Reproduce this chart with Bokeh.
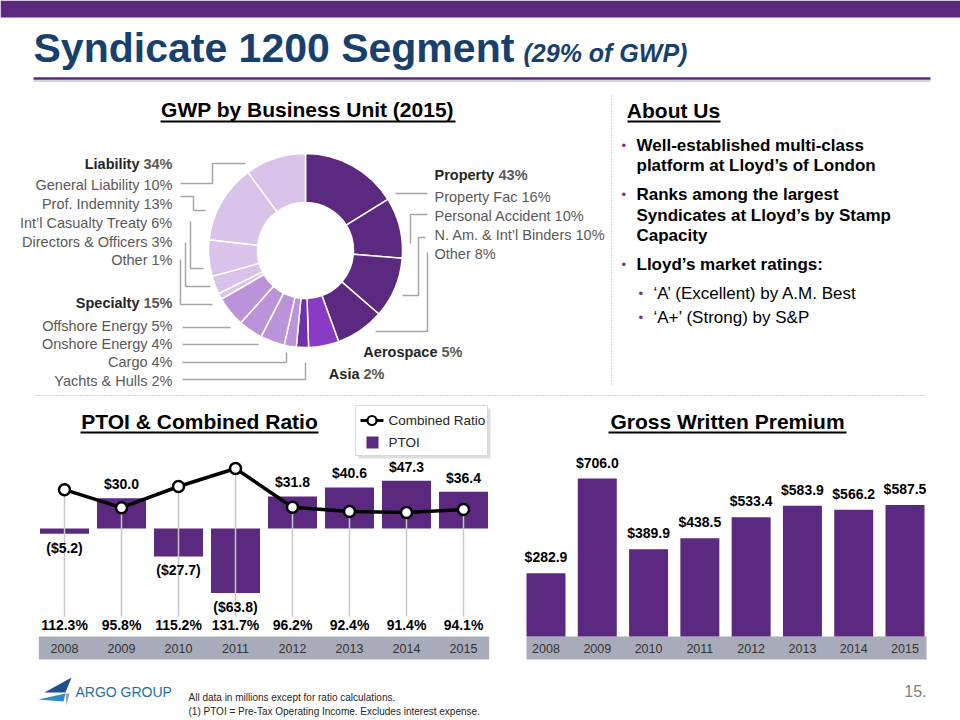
import math
from bokeh.plotting import figure
from bokeh.models import Range1d
from bokeh.embed import file_html
from bokeh.resources import INLINE
from bokeh.core.properties import value

# ---------------- data ----------------
years = ["2008", "2009", "2010", "2011", "2012", "2013", "2014", "2015"]
ptoi = [-5.2, 30.0, -27.7, -63.8, 31.8, 40.6, 47.3, 36.4]
combined_ratio = [112.3, 95.8, 115.2, 131.7, 96.2, 92.4, 91.4, 94.1]
gwp = [282.9, 706.0, 389.9, 438.5, 533.4, 583.9, 566.2, 587.5]

unit_names = ["Property Fac", "Personal Accident", "N. Am. & Int\u2019l Binders", "Other",
              "Aerospace", "Asia",
              "Yachts & Hulls", "Cargo", "Onshore Energy", "Offshore Energy",
              "Other", "Directors & Officers", "Int\u2019l Casualty Treaty", "Prof. Indemnity",
              "General Liability"]
unit_pct = [16, 10, 10, 8, 5, 2, 2, 4, 4, 5, 1, 3, 6, 13, 10]
unit_group = ["Property"] * 4 + ["Aerospace", "Asia"] + ["Specialty"] * 4 + ["Liability"] * 5
group_names = ["Property", "Aerospace", "Asia", "Specialty", "Liability"]
group_pct = [43, 5, 2, 15, 34]

about_lines = [
    ("Well-established multi-class", True, True),
    ("platform at Lloyd\u2019s of London", True, False),
    ("Ranks among the largest", True, True),
    ("Syndicates at Lloyd\u2019s by Stamp", True, False),
    ("Capacity", True, False),
    ("Lloyd\u2019s market ratings:", True, True),
    ("\u2018A\u2019 (Excellent) by A.M. Best", False, True),
    ("\u2018A+\u2019 (Strong) by S&P", False, True),
]

# ---------------- styles ----------------
PURPLE = "#5B2A80"
NAVY = "#17406D"
GREY_TXT = "#595959"
LEADER = "#A6A6A6"
BAND = "#A8ACBA"
FONT = "Liberation Sans"
GROUP_COLORS = {"Property": "#5B2A80", "Aerospace": "#8A3BC3", "Asia": "#7030A8",
                "Specialty": "#BA93D9", "Liability": "#D9C3EA"}

L, R, T, B = 0, 960, 0, 720

p = figure(width=R - L, height=B - T, x_range=Range1d(L, R), y_range=Range1d(B, T),
           output_backend="svg", toolbar_location=None, tools="",
           x_axis_location=None, y_axis_location=None, min_border=0)
p.xgrid.visible = False
p.ygrid.visible = False
p.outline_line_color = None
p.title.visible = False


class XMap:
    def __init__(self, v0, p0, v1, p1):
        self.k = (p1 - p0) / (v1 - v0)
        self.v0, self.p0 = v0, p0

    def range(self):
        return Range1d(self.v0 - (self.p0 - L) / self.k, self.v0 + (R - self.p0) / self.k)


class YMap:
    def __init__(self, v0, p0, v1, p1):
        self.k = (p0 - p1) / (v1 - v0)
        self.v0, self.p0 = v0, p0

    def range(self):
        return Range1d(self.v0 - (B - self.p0) / self.k, self.v0 + (self.p0 - T) / self.k)

    def val(self, pix):
        return self.v0 + (self.p0 - pix) / self.k


px = XMap(0, 64, 7, 463)
gx = XMap(0, 545.5, 7, 904.5)
dxm = XMap(0, 305, 1, 306)
py = YMap(0, 528, 100, 427)
cy = YMap(131.7, 468, 91.4, 512)
gy = YMap(0, 636, 706, 478)
dym = YMap(0, 250, 1, 249)
p.extra_x_ranges = {"px": px.range(), "gx": gx.range(), "dx": dxm.range()}
p.extra_y_ranges = {"py": py.range(), "cy": cy.range(), "gy": gy.range(), "dy": dym.range()}


def txt(x, y, s, size, color="#000000", style="normal", align="left", baseline="middle", font=FONT):
    p.text(x=[x], y=[y], text=[s], text_font=value(font), text_font_size=f"{size}px",
           text_color=color, text_font_style=style, text_align=align, text_baseline=baseline)


# ---------------- header ----------------
p.quad(left=0, right=960, top=0, bottom=17, fill_color=PURPLE, line_color=None)
txt(33, 47, "Syndicate 1200 Segment", 41, NAVY, "bold")
txt(523, 52, "(29% of GWP)", 25, NAVY, "bold italic")
p.segment(x0=33, y0=80.5, x1=930, y1=80.5, line_color="#C8C8C8", line_width=1.5)
p.segment(x0=33, y0=78, x1=930, y1=78, line_color=PURPLE, line_width=2.5)

# section headings (underlined)
for (cx, cyy, uy, s, x0, x1) in [(307, 109, 121, "GWP by Business Unit (2015)", 160, 455),
                                 (673, 110, 121, "About Us", 627, 720),
                                 (199, 421, 432, "PTOI & Combined Ratio", 80, 318),
                                 (727, 421, 432, "Gross Written Premium", 608, 846)]:
    txt(cx, cyy, s, 21, "#000000", "bold", align="center")
    p.segment(x0=x0, y0=uy, x1=x1, y1=uy, line_color="#000000", line_width=1.8)

# dotted separators
p.segment(x0=611, y0=95, x1=611, y1=385, line_color=LEADER, line_width=1, line_dash="1 2")
p.segment(x0=35, y0=395, x1=925, y1=395, line_color=LEADER, line_width=1, line_dash="1 2")

# ---------------- donut ----------------
total = sum(unit_pct)
cum = [0]
for v in unit_pct:
    cum.append(cum[-1] + v)
start_a = [math.pi / 2 - 2 * math.pi * cum[i + 1] / total for i in range(len(unit_pct))]
end_a = [math.pi / 2 - 2 * math.pi * cum[i] / total for i in range(len(unit_pct))]
p.annular_wedge(x=0, y=0, inner_radius=48, outer_radius=97, start_angle=start_a, end_angle=end_a,
                direction="anticlock", fill_color=[GROUP_COLORS[g] for g in unit_group],
                line_color="white", line_width=1.5, x_range_name="dx", y_range_name="dy")

leaders = [
    [(180, 183), (212, 183), (212, 163), (245, 163)],
    [(180, 196), (193, 196), (193, 210), (205, 210)],
    [(190, 221), (190, 268), (203, 268)],
    [(185, 242), (185, 286), (210, 286)],
    [(180, 259), (180, 304), (212, 304)],
    [(182, 327), (230, 327)],
    [(182, 344), (258, 344)],
    [(182, 362), (286, 362), (286, 352)],
    [(182, 379), (305, 379), (305, 362)],
    [(395, 193), (427, 193)],
    [(427, 214), (410, 214), (410, 243)],
    [(425, 237), (418, 237), (418, 295), (402, 295)],
    [(427, 252), (427, 331), (375, 331)],
]
p.multi_line(xs=[[a for a, b in ln] for ln in leaders], ys=[[b for a, b in ln] for ln in leaders],
             line_color=LEADER, line_width=1.5)

gp = dict(zip(group_names, group_pct))
LBL = 14.5
# left: liability
txt(139, 163, "Liability", LBL, "#262626", "bold", align="right")
txt(172, 163, f"{gp['Liability']}%", LBL, GREY_TXT, "bold", align="right")
for yy, i in zip([184, 203, 222, 241, 259], [14, 13, 12, 11, 10]):
    txt(172, yy, f"{unit_names[i]} {unit_pct[i]}%", LBL, GREY_TXT, align="right")
txt(139, 302, "Specialty", LBL, "#262626", "bold", align="right")
txt(172, 302, f"{gp['Specialty']}%", LBL, GREY_TXT, "bold", align="right")
for yy, i in zip([325, 343, 361, 380], [9, 8, 7, 6]):
    txt(172, yy, f"{unit_names[i]} {unit_pct[i]}%", LBL, GREY_TXT, align="right")
# right: property
txt(434, 174, "Property", LBL, "#262626", "bold")
txt(498, 174, f"{gp['Property']}%", LBL, GREY_TXT, "bold")
for yy, i in zip([196, 215, 234, 253], [0, 1, 2, 3]):
    txt(434, yy, f"{unit_names[i]} {unit_pct[i]}%", LBL, GREY_TXT)
txt(437, 351, "Aerospace", LBL, "#262626", "bold", align="right")
txt(462, 351, f"{gp['Aerospace']}%", LBL, GREY_TXT, "bold", align="right")
txt(359, 373, "Asia", LBL, "#262626", "bold", align="right")
txt(384, 373, f"{gp['Asia']}%", LBL, GREY_TXT, "bold", align="right")

# ---------------- About Us ----------------
ys_about = [145, 165, 194, 215, 235, 264, 293, 317]
for yy, (s, bold, bullet) in zip(ys_about, about_lines):
    x_text = 636 if bold else 653
    if bullet:
        txt(x_text - 15, yy, "\u2022", 13, "#7030A0", align="left")
    txt(x_text, yy, s, 17, "#000000", "bold" if bold else "normal")

# ---------------- PTOI & Combined Ratio ----------------
idx = list(range(len(years)))
PBW = 0.86
p.quad(left=-PBW / 2 - 0.02, right=len(years) - 1 + PBW / 2 + 0.02, top=636, bottom=659,
       fill_color=BAND, line_color=None, x_range_name="px")
p.text(x=idx, y=[648] * len(idx), text=years, text_font=value(FONT), text_font_size="12.5px",
       text_color="#333333", text_align="center", text_baseline="middle", x_range_name="px")
p.vbar(x=idx, top=ptoi, bottom=0, width=PBW, fill_color=PURPLE, line_color=None,
       x_range_name="px", y_range_name="py")
cr_floor = cy.val(616)
p.segment(x0=idx, y0=combined_ratio, x1=idx, y1=[cr_floor] * len(idx), line_color="#C8C8C8",
          line_width=1.5, x_range_name="px", y_range_name="cy")
p.line(x=idx, y=combined_ratio, line_color="black", line_width=3.5, x_range_name="px", y_range_name="cy")
p.scatter(x=idx, y=combined_ratio, size=11, fill_color="white", line_color="black", line_width=2.5,
          x_range_name="px", y_range_name="cy")
pos = [i for i, v in enumerate(ptoi) if v >= 0]
neg = [i for i, v in enumerate(ptoi) if v < 0]
p.text(x=pos, y=[ptoi[i] for i in pos], text=[f"${ptoi[i]:.1f}" for i in pos], text_font=value(FONT),
       text_font_size="14px", text_font_style="bold", text_align="center", text_baseline="middle",
       y_offset=-14, x_range_name="px", y_range_name="py")
p.text(x=neg, y=[ptoi[i] for i in neg], text=[f"(${-ptoi[i]:.1f})" for i in neg], text_font=value(FONT),
       text_font_size="14px", text_font_style="bold", text_align="center", text_baseline="middle",
       y_offset=14, x_range_name="px", y_range_name="py")
p.text(x=idx, y=[624] * len(idx), text=[f"{v:.1f}%" for v in combined_ratio], text_font=value(FONT),
       text_font_size="14px", text_font_style="bold", text_align="center", text_baseline="middle",
       x_range_name="px")

# legend
p.quad(left=358, right=490, top=408, bottom=458, fill_color="#BBBBBB", fill_alpha=0.5, line_color=None)
p.quad(left=355, right=487, top=405, bottom=455, fill_color="white", line_color="#D9D9D9")
p.segment(x0=360, y0=420, x1=383, y1=420, line_color="black", line_width=3)
p.scatter(x=[371.5], y=[420], size=9, fill_color="white", line_color="black", line_width=2.2)
txt(388, 420, "Combined Ratio", 13.5, "#262626")
p.quad(left=366, right=378, top=436, bottom=448, fill_color=PURPLE, line_color=None)
txt(388, 442, "PTOI", 13.5, "#262626")

# ---------------- Gross Written Premium ----------------
GBW = 0.76
p.quad(left=-GBW / 2, right=len(years) - 1 + GBW / 2 + 0.04, top=636, bottom=659,
       fill_color=BAND, line_color=None, x_range_name="gx")
p.text(x=idx, y=[648] * len(idx), text=years, text_font=value(FONT), text_font_size="12.5px",
       text_color="#333333", text_align="center", text_baseline="middle", x_range_name="gx")
p.vbar(x=idx, top=gwp, bottom=0, width=GBW, fill_color=PURPLE, line_color=None,
       x_range_name="gx", y_range_name="gy")
p.text(x=idx, y=gwp, text=[f"${v:.1f}" for v in gwp], text_font=value(FONT), text_font_size="14px",
       text_font_style="bold", text_align="center", text_baseline="middle", y_offset=-16,
       x_range_name="gx", y_range_name="gy")

# ---------------- footer ----------------
p.patches(xs=[[44, 71, 65], [38, 65, 63], [65, 69, 66]],
          ys=[[692, 677, 692], [699, 693, 701], [693, 693, 705]],
          fill_color=["#1D4F91", "#2E8BCB", "#9AA3AD"], line_color=None)
txt(75, 691, "ARGO GROUP", 14, "#1F6EA8")
txt(188, 697, "All data in millions except for ratio calculations.", 10, "#262626")
txt(188, 711, "(1) PTOI = Pre-Tax Operating Income.  Excludes interest expense.", 10, "#262626")
txt(926, 690, "15.", 16, "#808080", align="right")

open("out.html", "w").write(file_html(p, INLINE))
